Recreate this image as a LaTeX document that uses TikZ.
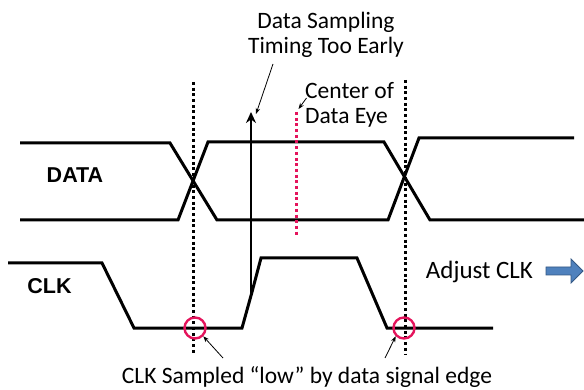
\documentclass[tikz,border=0pt]{standalone}
\usepackage{fontspec}
\setmainfont{Carlito}
\newfontfamily\signalfont{Liberation Sans}
\usetikzlibrary{arrows.meta, positioning}
\definecolor{eyered}{RGB}{228,20,92}
\definecolor{adjblue}{RGB}{79,129,189}
\definecolor{adjborder}{RGB}{52,88,132}

\begin{document}
\begin{tikzpicture}[
  x=1pt, y=-1pt,
  sig/.style={line width=3pt, line join=miter},
  sampleline/.style={line width=3pt, dash pattern=on 3pt off 2.7pt},
  eyeline/.style={sampleline, eyered},
  ring/.style={circle, draw=eyered, line width=2.4pt, minimum size=21pt, inner sep=0pt},
  lbl/.style={font=\fontsize{23.5}{25}\selectfont, align=center, inner sep=0pt},
  signame/.style={font=\signalfont\bfseries\fontsize{21.5}{22}\selectfont, inner sep=0pt},
  ptr/.style={-{Stealth[length=6pt, width=4.5pt]}, line width=0.8pt}
]
\useasboundingbox (0,0) rectangle (584,390);

% waveforms
\draw[sig] (20,143) -- (170,143) -- (217,220) -- (388,220) -- (419,138) -- (574,138);
\draw[sig] (20,220) -- (178,220) -- (208,142) -- (384,142) -- (430,220) -- (584,220);
\draw[sig] (8,263) -- (102,263) -- (134,328) -- (242,328) -- (252,292) -- (261,258)
  -- (357,258) -- (387,328) -- (493,328);

% sampling points
\draw[sampleline] (193.5,82) -- (193.5,355);
\draw[sampleline] (405,80) -- (405,355);
\draw[eyeline] (296,112) -- (296,237);
\node[ring] (low1) at (195,328) {};
\node[ring] (low2) at (404,328) {};

% too early sampling
\coordinate (rise) at (251,294);
\coordinate (tip) at (251,112);
\draw[line width=2.6pt, -{Stealth[length=11pt, width=10pt]}] (rise) -- (tip);

% labels
\node[signame] (data) at (75,175.5) {DATA};
\node[signame] (clk) at (49.5,286) {CLK};
\node[lbl] (early) at (326,35) {Data Sampling\\Timing Too Early};
\node[lbl, align=left, anchor=west] (eye) at (305,105) {Center of\\Data Eye};
\node[lbl] (sampled) at (307,377) {CLK Sampled “low” by data signal edge};
\node[lbl, font=\fontsize{25}{26}\selectfont] (adjust) at (479.5,272) {Adjust CLK};

% pointers
\coordinate (earlyfoot) at (273,64);
\coordinate (eyefoot) at (306.5,98);
\coordinate (eyetop) at (298.5,109);
\coordinate (low1foot) at (223,358);
\coordinate (low2foot) at (385,358);
\draw[ptr] (earlyfoot) -- ([xshift=5pt, yshift=-2pt]tip);
\draw[ptr] (eyefoot) -- (eyetop);
\draw[ptr] (low1foot) -- (low1.south east);
\draw[ptr] (low2foot) -- (low2.south west);

% adjust arrow
\draw[fill=adjblue, draw=adjborder, line width=0.8pt]
  (546,267) -- (571,267) -- (571,259) -- (583,271) -- (571,283) -- (571,275) -- (546,275) -- cycle;
\end{tikzpicture}
\end{document}
